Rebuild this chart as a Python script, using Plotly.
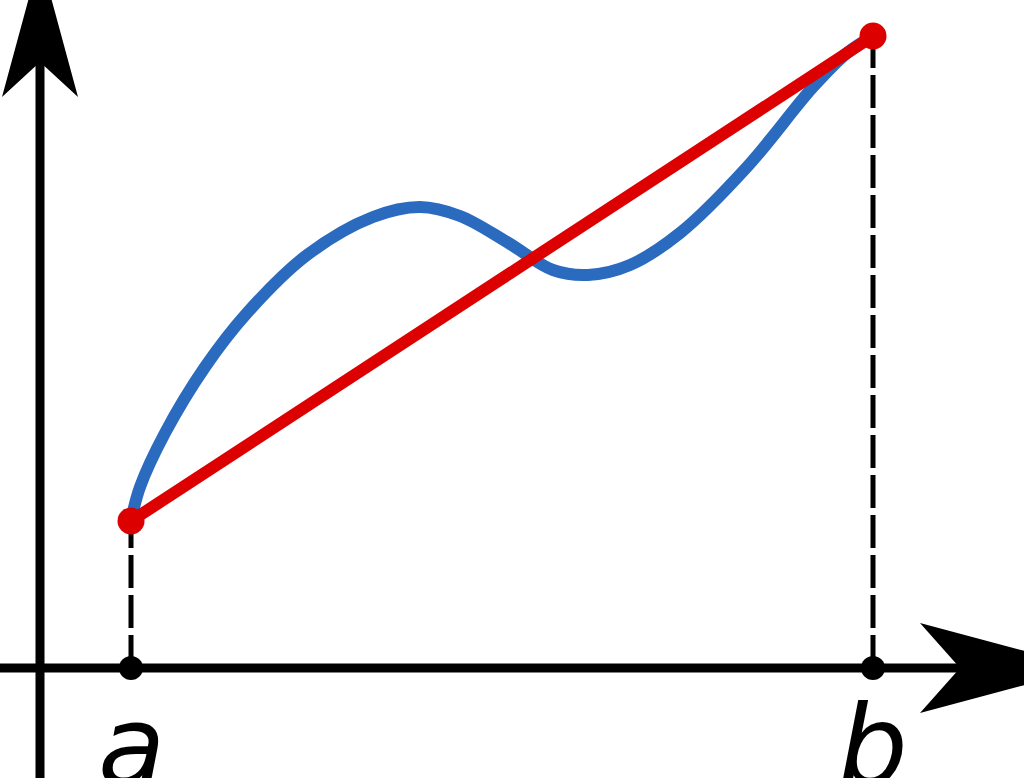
import plotly.graph_objects as go

# coordinates: origin at the axis crossing, 1 unit = 1 px
a_val = 91
b_val = 833
fa = 147
fb = 632

# sampled points of f(x) on [a, b]
curve_x = [91, 100, 125, 165, 207, 267, 333, 380, 420, 467, 513, 548, 590,
           640, 707, 773, 807, 833]
curve_y = [147, 181, 235, 301, 355, 413, 451, 461, 452, 426, 398, 393, 403,
           435, 501, 581, 615, 632]

labels = ["a", "b"]

# axis extents and arrowheads
x_min, x_max = -40, 984
y_min, y_max = -110, 668
xarrow = dict(tip=1048, back=880, notch=920, hw=45)
yarrow = dict(tip=711, back=571, notch=606, hw=38)

blue = "#2a6bbf"
red = "#dd0000"

fig = go.Figure()

# dashed drop lines
for xv, yv in [(a_val, fa), (b_val, fb)]:
    fig.add_trace(go.Scatter(x=[xv, xv], y=[0, yv], mode="lines",
                             line=dict(color="black", width=5, dash="33px,7px"),
                             hoverinfo="skip", showlegend=False))

# the function
fig.add_trace(go.Scatter(x=curve_x, y=curve_y, mode="lines",
                         line=dict(color=blue, width=12, shape="spline", smoothing=1.0),
                         showlegend=False))

# the secant
fig.add_trace(go.Scatter(x=[a_val, b_val], y=[fa, fb], mode="lines",
                         line=dict(color=red, width=12), showlegend=False))

# points on the x axis
fig.add_trace(go.Scatter(x=[a_val, b_val], y=[0, 0], mode="markers",
                         marker=dict(color="black", size=24), showlegend=False))

# end points of the curve
fig.add_trace(go.Scatter(x=[a_val, b_val], y=[fa, fb], mode="markers",
                         marker=dict(color=red, size=27), showlegend=False))

shapes = [
    dict(type="line", x0=x_min, x1=xarrow["notch"], y0=0, y1=0,
         line=dict(color="black", width=9), layer="below"),
    dict(type="line", x0=0, x1=0, y0=y_min, y1=yarrow["notch"],
         line=dict(color="black", width=9), layer="below"),
    dict(type="path",
         path=f"M {xarrow['tip']},0 L {xarrow['back']},{xarrow['hw']} "
              f"L {xarrow['notch']},0 L {xarrow['back']},{-xarrow['hw']} Z",
         fillcolor="black", line=dict(width=0), layer="below"),
    dict(type="path",
         path=f"M 0,{yarrow['tip']} L {-yarrow['hw']},{yarrow['back']} "
              f"L 0,{yarrow['notch']} L {yarrow['hw']},{yarrow['back']} Z",
         fillcolor="black", line=dict(width=0), layer="below"),
]

annotations = [
    dict(x=xv, y=-78, text=t, showarrow=False, xanchor="center", yanchor="middle",
         font=dict(family="DejaVu Sans", size=110, color="black", style="italic"))
    for xv, t in zip([a_val, b_val], labels)
]

fig.update_layout(
    width=1024, height=778,
    margin=dict(l=0, r=0, t=0, b=0),
    paper_bgcolor="white", plot_bgcolor="white",
    xaxis=dict(range=[x_min, x_max], visible=False, fixedrange=True),
    yaxis=dict(range=[y_min, y_max], visible=False, fixedrange=True),
    shapes=shapes,
    annotations=annotations,
)

fig.write_html("out.html", config={"displayModeBar": False},
               post_script="document.body.style.margin='0';"
                           "document.body.style.overflow='hidden';")
